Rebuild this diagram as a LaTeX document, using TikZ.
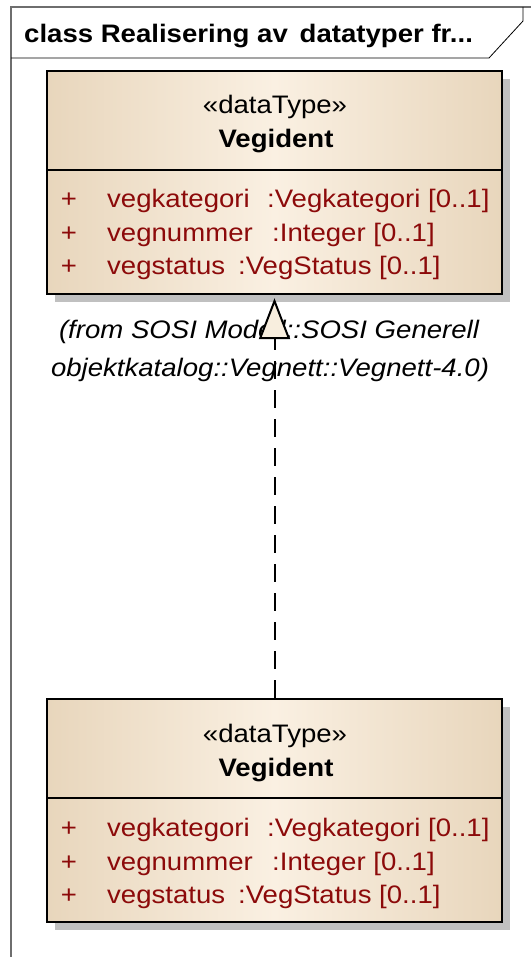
\documentclass[tikz,border=0pt]{standalone}
\usepackage{fontspec}
\setmainfont{Liberation Sans}[FakeStretch=1.09]
\usetikzlibrary{arrows.meta}
\definecolor{tanedge}{RGB}{232,214,188}
\definecolor{tanmid}{RGB}{250,240,226}
\definecolor{attrred}{RGB}{140,10,10}
\definecolor{framegray}{RGB}{110,110,110}
\definecolor{shadowgray}{RGB}{192,192,192}
\definecolor{tricream}{RGB}{248,238,222}
\tikzset{
  classbox/.style={draw=black, line width=2.4pt, left color=tanedge, right color=tanedge, middle color=tanmid,
    minimum width=455pt, minimum height=223pt, inner sep=0pt},
  shadowbox/.style={fill=shadowgray, draw=none},
  divider/.style={draw=black, line width=2pt},
  txt/.style={font=\fontsize{25.3}{30}\selectfont, inner sep=0pt, anchor=base},
  boldtxt/.style={txt, font=\fontsize{25.3}{30}\selectfont\bfseries},
  attr/.style={txt, text=attrred, anchor=base west},
  plus/.style={txt, text=attrred},
  note/.style={txt, font=\fontsize{25.3}{30}\selectfont\itshape},
  realize/.style={line width=2pt, dash pattern=on 18pt off 11pt,
    -{Triangle[open, length=41pt, width=31pt, fill=tricream, line join=miter]}, shorten >=3pt},
  framestyle/.style={draw=framegray, line width=1.5pt},
  tabstyle/.style={draw=black, line width=0.8pt}
}
\begin{document}
\begin{tikzpicture}[x=1pt,y=-1pt]
\useasboundingbox (0,0) rectangle (531,957);
% frame
\draw[framestyle] (11,957) -- (11,7) -- (531,7);
\draw[tabstyle] (11,58) -- (489,58) -- (523,21) -- (523,7);
\node[boldtxt, anchor=base west] (title) at (24,43) {class Realisering av\, datatyper fr...};

% top class
\fill[shadowbox] (55,79) rectangle (510,302);
\node[classbox] (top) at (274.5,182.5) {};
\draw[divider] (47,170) -- (502,170);
\node[txt] (topst) at (275,114) {«dataType»};
\node[boldtxt] (topname) at (276,148) {Vegident};
\node[plus] (tp1) at (69,208) {+};
\node[plus] (tp2) at (69,242) {+};
\node[plus] (tp3) at (69,275) {+};
\node[attr] (ta1) at (107,208) {vegkategori};
\node[attr] (tt1) at (267,208) {:Vegkategori [0..1]};
\node[attr] (ta2) at (107,242) {vegnummer};
\node[attr] (tt2) at (272,242) {:Integer [0..1]};
\node[attr] (ta3) at (107,275) {vegstatus};
\node[attr] (tt3) at (238,275) {:VegStatus [0..1]};

% bottom class
\fill[shadowbox] (55,707) rectangle (510,930);
\node[classbox] (bot) at (274.5,810.5) {};
\draw[divider] (47,798) -- (502,798);
\node[txt] (botst) at (275,742) {«dataType»};
\node[boldtxt] (botname) at (276,776) {Vegident};
\node[plus] (bp1) at (69,836) {+};
\node[plus] (bp2) at (69,870) {+};
\node[plus] (bp3) at (69,903) {+};
\node[attr] (ba1) at (107,836) {vegkategori};
\node[attr] (bt1) at (267,836) {:Vegkategori [0..1]};
\node[attr] (ba2) at (107,870) {vegnummer};
\node[attr] (bt2) at (272,870) {:Integer [0..1]};
\node[attr] (ba3) at (107,903) {vegstatus};
\node[attr] (bt3) at (238,903) {:VegStatus [0..1]};

% note
\node[note] (from1) at (269,338) {(from SOSI Modell::SOSI Generell};
\node[note] (from2) at (270,376) {objektkatalog::Vegnett::Vegnett-4.0)};

% realization
\draw[realize] (bot.north) -- (top.south);
\end{tikzpicture}
\end{document}
